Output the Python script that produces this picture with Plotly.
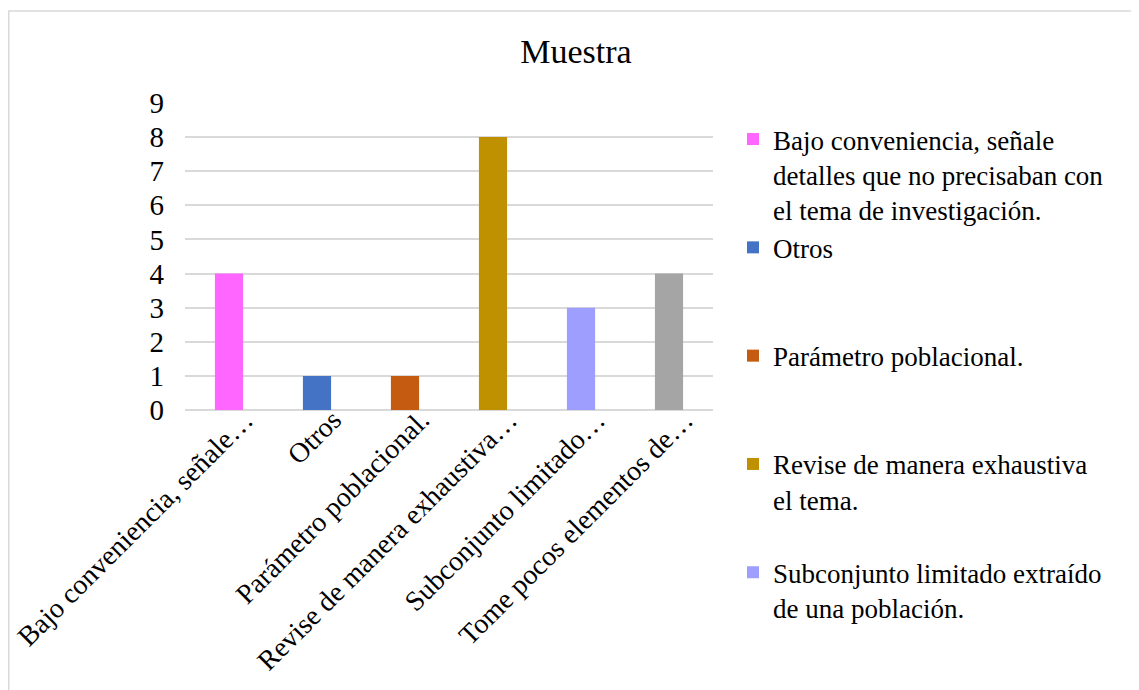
import plotly.graph_objects as go

# legend names (wrapped like the original) and the shortened axis labels
categories = [
    "Bajo conveniencia, señale<br>detalles que no precisaban con<br>el tema de investigación.",
    "Otros",
    "Parámetro poblacional.",
    "Revise de manera exhaustiva<br>el tema.",
    "Subconjunto limitado extraído<br>de una población.",
    "Tome pocos elementos de la población.",
]
axis_labels = [
    "Bajo conveniencia, señale…",
    "Otros",
    "Parámetro poblacional.",
    "Revise de manera exhaustiva…",
    "Subconjunto limitado…",
    "Tome pocos elementos de…",
]
values = [4, 1, 1, 8, 3, 4]
colors = ["#ff66ff", "#4472c4", "#c55a11", "#bf9000", "#9e9eff", "#a5a5a5"]
# last entry is cut off in the original legend
in_legend = [True, True, True, True, True, False]

FONT = "Liberation Serif, Times New Roman, serif"
GRID = "#d9d9d9"

# the page body adds an 8px offset, so everything is placed 8px up/left
W, H = 1139, 690
L, T, PW, PH = 177, 95, 528, 307


def pad_lines(name, n=3):
    lines = name.split("<br>")
    return "<br>".join(lines + [" "] * (n - len(lines)))


fig = go.Figure()
for name, lab, val, col, leg in zip(categories, axis_labels, values, colors, in_legend):
    fig.add_trace(go.Bar(
        x=[lab], y=[val],
        name=pad_lines(name),
        marker=dict(color=col, line=dict(width=0)),
        width=0.32,
        showlegend=leg,
    ))

fig.update_layout(
    width=W, height=H,
    margin=dict(l=L, r=W - L - PW, t=T, b=H - T - PH, autoexpand=False),
    paper_bgcolor="white", plot_bgcolor="white",
    barmode="overlay",
    font=dict(family=FONT, size=28, color="black"),
    title=dict(
        text="Muestra", x=568 / W, xref="container", xanchor="center",
        y=1 - 43 / H, yref="container", yanchor="middle",
        font=dict(family=FONT, size=34, color="black"),
    ),
    legend=dict(
        x=(725 - L) / PW, xanchor="left", y=1 - 107 / H, yref="container", yanchor="top",
        valign="top", tracegroupgap=0, maxheight=640,
        font=dict(family=FONT, size=27, color="black"),
        bgcolor="rgba(0,0,0,0)",
    ),
    shapes=[dict(
        type="rect", xref="paper", yref="paper", layer="below",
        x0=(0.75 - L) / PW, x1=1.0 + 600 / PW,
        y0=1 + (T - 3) / PH, y1=-1.5,
        line=dict(color=GRID, width=1.5), fillcolor="rgba(0,0,0,0)",
    )],
)
fig.update_xaxes(
    tickangle=-45, showgrid=False, showline=False, ticks="", automargin=False,
    ticklabelstandoff=-13, ticklabelshift=16,
    tickfont=dict(family=FONT, size=28, color="black"),
)
fig.update_yaxes(
    range=[0, 9], dtick=1, showgrid=True, gridcolor=GRID, gridwidth=1.5,
    zeroline=True, zerolinecolor=GRID, zerolinewidth=1.5,
    ticks="", ticklabelstandoff=20, automargin=False,
    tickfont=dict(family=FONT, size=29, color="black"),
)

fig.write_html("out.html")
